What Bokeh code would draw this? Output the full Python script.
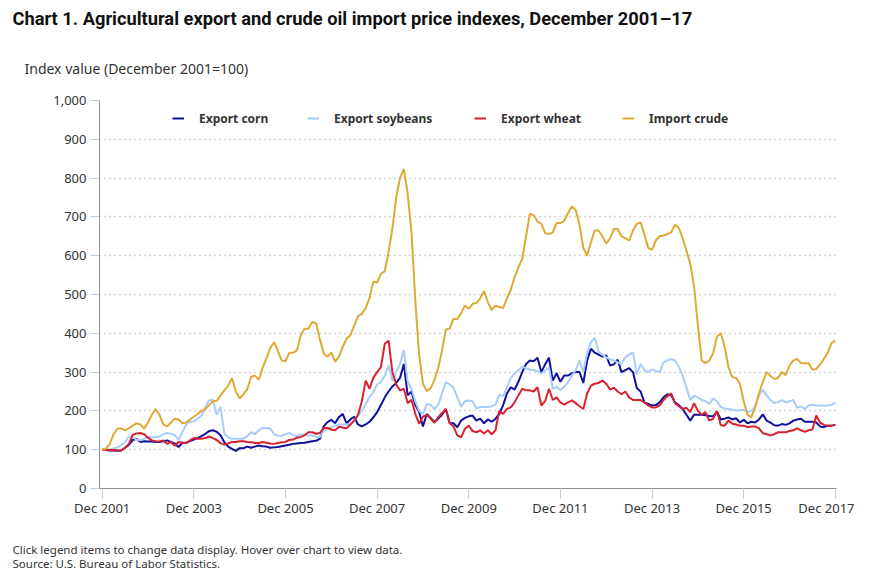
from bokeh.plotting import figure
from bokeh.models import (ColumnDataSource, Legend, LegendItem, Title, FixedTicker,
                          NumeralTickFormatter, Range1d)
from bokeh.embed import file_html
from bokeh.resources import INLINE

# month offsets from December 2001 (0) to December 2017 (192)
months = list(range(193))

corn = [100,
    99, 98, 98, 97, 98, 105, 113, 125, 128, 120, 122, 121,
    121, 120, 120, 122, 124, 120, 116, 107, 118, 118, 122, 126,
    130, 135, 141, 148, 150, 146, 137, 119, 108, 102, 97, 104,
    104, 108, 105, 108, 111, 109, 108, 105, 106, 107, 109, 111,
    113, 115, 116, 117, 118, 120, 122, 123, 128, 160, 171, 177,
    168, 184, 192, 168, 178, 185, 165, 160, 165, 172, 183, 197,
    215, 235, 250, 263, 272, 285, 321, 240, 250, 215, 197, 160,
    192, 182, 172, 180, 190, 205, 168, 168, 158, 175, 182, 186,
    188, 175, 180, 168, 178, 172, 180, 192, 215, 245, 261, 255,
    275, 300, 321, 330, 328, 337, 300, 320, 337, 278, 297, 275,
    291, 291, 297, 300, 300, 272, 330, 360, 350, 345, 340, 343,
    317, 320, 332, 300, 305, 310, 300, 259, 250, 222, 218, 214,
    215, 222, 235, 243, 240, 222, 215, 205, 190, 175, 190, 190,
    190, 189, 187, 186, 198, 178, 180, 183, 178, 181, 170, 177,
    168, 172, 170, 178, 191, 175, 170, 163, 162, 166, 164, 168,
    175, 178, 180, 172, 172, 172, 170, 160, 158, 162, 162, 164]

soybeans = [100,
    101, 100, 103, 106, 112, 120, 134, 132, 126, 124, 128, 133,
    132, 132, 134, 140, 143, 141, 138, 125, 145, 165, 172, 173,
    180, 188, 210, 227, 229, 190, 210, 141, 132, 128, 128, 128,
    128, 135, 145, 140, 150, 156, 155, 155, 140, 136, 135, 140,
    143, 138, 135, 140, 138, 137, 137, 133, 133, 148, 154, 158,
    162, 165, 165, 165, 166, 175, 188, 200, 218, 235, 248, 268,
    275, 290, 317, 277, 300, 321, 357, 275, 257, 225, 200, 192,
    218, 216, 205, 215, 245, 274, 268, 260, 235, 211, 225, 227,
    225, 206, 210, 210, 210, 212, 216, 242, 238, 260, 285, 296,
    305, 314, 310, 306, 306, 302, 296, 305, 312, 257, 262, 254,
    262, 274, 291, 305, 330, 300, 350, 378, 388, 352, 345, 338,
    333, 330, 325, 321, 338, 345, 351, 294, 321, 305, 300, 307,
    303, 300, 325, 330, 333, 330, 315, 291, 260, 228, 239, 235,
    228, 225, 218, 232, 225, 210, 206, 205, 203, 201, 202, 203,
    197, 200, 211, 240, 254, 240, 228, 220, 222, 228, 222, 225,
    228, 208, 211, 205, 214, 216, 214, 214, 214, 214, 216, 221]

wheat = [100,
    100, 99, 99, 98, 98, 105, 115, 138, 142, 143, 140, 131,
    124, 122, 121, 124, 115, 120, 110, 120, 118, 117, 124, 130,
    128, 128, 130, 134, 130, 125, 117, 113, 116, 120, 120, 122,
    122, 120, 119, 117, 117, 120, 118, 116, 115, 117, 119, 120,
    125, 126, 131, 133, 137, 145, 145, 141, 143, 156, 156, 152,
    150, 159, 157, 155, 165, 175, 190, 225, 278, 257, 285, 300,
    313, 373, 381, 300, 268, 253, 257, 220, 229, 192, 167, 185,
    190, 180, 169, 184, 195, 205, 169, 160, 137, 132, 154, 162,
    148, 145, 150, 142, 150, 140, 150, 201, 192, 205, 209, 222,
    240, 257, 253, 253, 250, 261, 214, 225, 257, 228, 235, 222,
    216, 222, 227, 220, 212, 205, 245, 265, 270, 272, 278, 270,
    255, 260, 250, 243, 250, 235, 228, 228, 228, 222, 214, 209,
    209, 214, 228, 238, 245, 220, 212, 205, 208, 197, 220, 200,
    190, 197, 175, 180, 200, 163, 162, 175, 167, 165, 162, 162,
    158, 160, 160, 155, 143, 140, 137, 140, 145, 145, 145, 148,
    150, 155, 150, 146, 150, 152, 188, 170, 164, 162, 162, 164]

crude = [100,
    103, 115, 140, 154, 155, 150, 155, 162, 168, 165, 154, 170,
    190, 205, 190, 165, 160, 170, 180, 178, 168, 170, 178, 185,
    192, 200, 204, 215, 225, 226, 240, 253, 265, 285, 250, 232,
    243, 256, 288, 291, 280, 310, 335, 362, 377, 355, 330, 328,
    350, 350, 356, 395, 412, 412, 429, 426, 385, 348, 340, 351,
    327, 340, 365, 386, 395, 420, 444, 450, 465, 490, 533, 531,
    553, 560, 610, 670, 750, 800, 824, 760, 660, 485, 345, 270,
    251, 258, 280, 310, 356, 410, 412, 437, 437, 452, 472, 463,
    476, 478, 490, 509, 480, 460, 471, 468, 465, 490, 512, 545,
    570, 592, 650, 708, 704, 688, 682, 658, 656, 660, 684, 684,
    690, 710, 727, 718, 680, 620, 600, 635, 665, 665, 650, 631,
    644, 669, 669, 650, 645, 639, 665, 682, 686, 655, 620, 615,
    640, 650, 652, 656, 660, 680, 672, 645, 613, 579, 520, 420,
    330, 323, 330, 349, 392, 400, 366, 313, 287, 285, 270, 225,
    190, 184, 210, 245, 275, 300, 290, 282, 285, 300, 292, 317,
    330, 334, 323, 323, 323, 306, 308, 320, 334, 350, 375, 381]

series_names = ["Export corn", "Export soybeans", "Export wheat", "Import crude"]
series_colors = ["#1010a0", "#a9cdfa", "#d9222f", "#deaa35"]

x_tick_positions = [0, 24, 48, 72, 96, 120, 144, 168, 192]
x_tick_labels = ["Dec 2001", "Dec 2003", "Dec 2005", "Dec 2007", "Dec 2009",
                 "Dec 2011", "Dec 2013", "Dec 2015", "Dec 2017"]
y_ticks = [0, 100, 200, 300, 400, 500, 600, 700, 800, 900, 1000]

title_text = "Chart 1. Agricultural export and crude oil import price indexes, December 2001\u201317"
y_label_text = "Index value (December 2001=100)"
note_text = "Click legend items to change data display. Hover over chart to view data."
source_text = "Source: U.S. Bureau of Labor Statistics."

assert all(len(s) == 193 for s in (corn, soybeans, wheat, crude))

FONT = "'Noto Sans', sans-serif"
TITLE_FONT = "'Liberation Sans Narrow', 'Arial Narrow', 'Roboto', sans-serif"

src = ColumnDataSource(dict(month=months, corn=corn, soybeans=soybeans,
                            wheat=wheat, crude=crude))

p = figure(frame_width=737, frame_height=388,
           min_border_left=99, min_border_right=18,
           min_border_top=100, min_border_bottom=88,
           x_range=Range1d(-0.7, 192.3), y_range=Range1d(0, 1000),
           output_backend="svg", toolbar_location=None, tools="")
p.outline_line_color = None
p.background_fill_color = "white"
p.border_fill_color = "white"

# grid
p.xgrid.visible = False
p.ygrid.ticker = FixedTicker(ticks=y_ticks)
p.ygrid.grid_line_color = "#a8a8a8"
p.ygrid.grid_line_dash = "1 4"
p.ygrid.grid_line_width = 1.3

# y axis
ya = p.yaxis[0]
ya.ticker = FixedTicker(ticks=y_ticks)
ya.formatter = NumeralTickFormatter(format="0,0")
ya.axis_line_color = "#8c8c8c"
ya.major_tick_line_color = "#c0d0e0"
ya.major_tick_out = 9
ya.major_tick_in = 0
ya.minor_tick_line_color = None
ya.major_label_standoff = 4
ya.major_label_text_font = FONT
ya.major_label_text_font_size = "13px"
ya.major_label_text_color = "#333333"

# x axis
xa = p.xaxis[0]
xa.ticker = FixedTicker(ticks=x_tick_positions)
xa.major_label_overrides = {pos: lab for pos, lab in zip(x_tick_positions, x_tick_labels)}
xa.axis_line_color = "#8c8c8c"
xa.major_tick_line_color = "#c0d0e0"
xa.major_tick_out = 10
xa.major_tick_in = 0
xa.minor_tick_line_color = None
xa.major_label_standoff = 0
xa.major_label_text_font = FONT
xa.major_label_text_font_size = "13px"
xa.major_label_text_color = "#333333"

# lines
renderers = []
for col, name, color in zip(["corn", "soybeans", "wheat", "crude"], series_names, series_colors):
    r = p.line("month", col, source=src, line_color=color, line_width=2)
    renderers.append(r)

# legend: one per item to fix positions
legend_x = [73, 208, 375, 523]
for r, name, lx in zip(renderers, series_names, legend_x):
    lg = Legend(items=[LegendItem(label=name, renderers=[r])],
                location=(lx, 360), orientation="horizontal",
                padding=0, margin=0, spacing=0,
                border_line_color=None, background_fill_alpha=0,
                glyph_width=12, glyph_height=20, label_standoff=15,
                label_text_font=FONT, label_text_font_size="12px",
                label_text_font_style="bold", label_text_color="#333333",
                click_policy="hide")
    p.add_layout(lg)

# texts as titles (above: nearest to the frame first)
p.add_layout(Title(text=y_label_text, align="left", offset=-75, standoff=46,
                   text_font=FONT, text_font_size="14px", text_font_style="normal",
                   text_color="#333333"), "above")
p.add_layout(Title(text=title_text, align="left", offset=-87, standoff=10,
                   text_font=TITLE_FONT, text_font_size="18.3px", text_font_style="bold",
                   text_color="#111111"), "above")

# blank spacer between the x axis and the notes
p.add_layout(Title(text=" ", align="left", standoff=5, text_font=FONT,
                   text_font_size="11.5px", text_color="white"), "below")
p.add_layout(Title(text=note_text, align="left", offset=-87, standoff=-3,
                   text_font=FONT, text_font_size="11.5px", text_font_style="normal",
                   text_color="#333333"), "below")
p.add_layout(Title(text=source_text, align="left", offset=-87, standoff=-3,
                   text_font=FONT, text_font_size="11.5px", text_font_style="normal",
                   text_color="#333333"), "below")

open("out.html", "w").write(file_html(p, INLINE))
